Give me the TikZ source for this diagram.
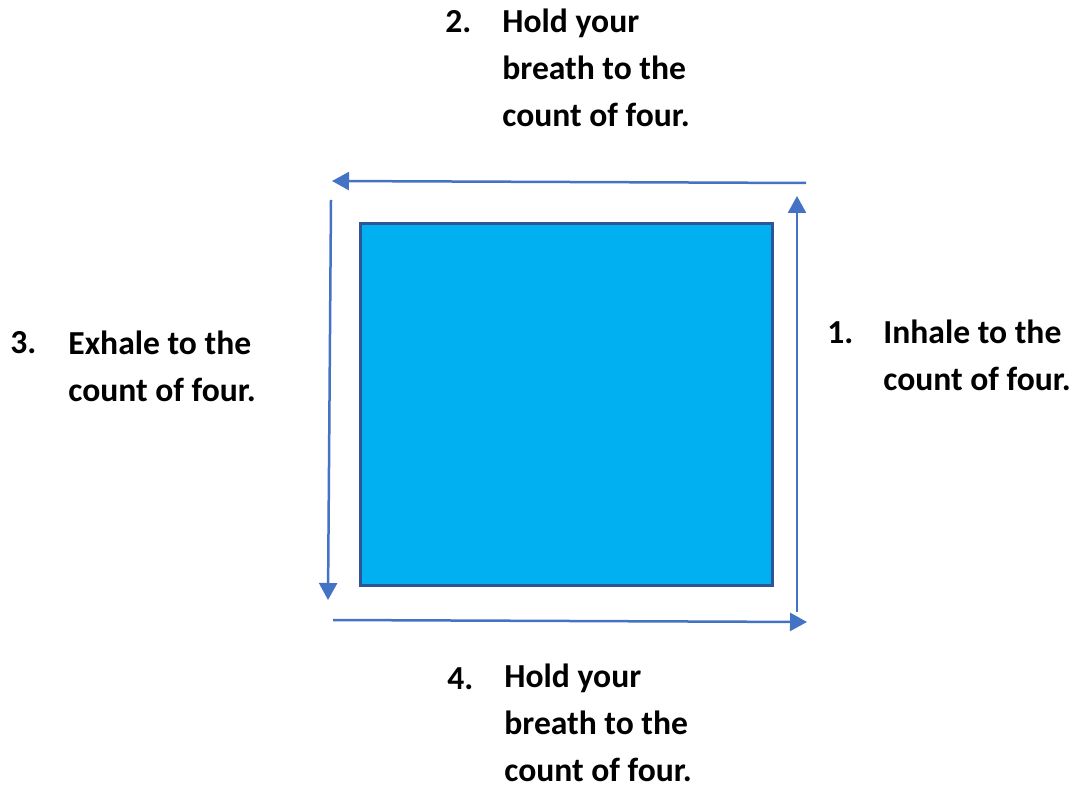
\documentclass[tikz,border=0pt]{standalone}
\usepackage{fontspec}
\setmainfont{Carlito}
\usetikzlibrary{arrows.meta,positioning}
\definecolor{ArrowBlue}{HTML}{4472C4}
\definecolor{BoxFill}{HTML}{00B0F0}
\definecolor{BoxEdge}{HTML}{2F5597}

\begin{document}
\begin{tikzpicture}[
  x=0.5pt,y=-0.5pt,
  square/.style={rectangle,draw=BoxEdge,fill=BoxFill,line width=1.5pt,minimum width=206pt,minimum height=180.5pt,inner sep=0pt},
  num/.style={anchor=base west,inner sep=0pt,font=\fontsize{16.8}{23.5}\selectfont\bfseries},
  steptext/.style={anchor=base west,inner sep=0pt,text depth=0pt,align=left,font=\fontsize{16.8}{23.5}\selectfont\bfseries},
  flow/.style={-{Triangle[length=8.5pt,width=9pt]},line width=1.25pt,draw=ArrowBlue}]
\useasboundingbox (0,0) rectangle (1080,785);
\node[square] (box) at (566,404.5) {};
% arrow ends round the square
\coordinate (rb) at (797,612);
\coordinate (rt) at (797,196);
\coordinate (tr) at (806,183);
\coordinate (tl) at (332,181);
\coordinate (lt) at (331,200);
\coordinate (lb) at (328,600);
\coordinate (bl) at (333,620);
\coordinate (br) at (807,622);
\draw[flow] (rb) -- (rt);
\draw[flow] (tr) -- (tl);
\draw[flow] (lt) -- (lb);
\draw[flow] (bl) -- (br);
% the four steps (text nodes sit on their last line)
\node[num] (n1) at (827,344) {1.};
\node[steptext] (inhale) at (883,391) {Inhale to the\\count of four.};
\node[num] (n2) at (445,33) {2.};
\node[steptext] (hold1) at (502,127) {Hold your\\breath to the\\count of four.};
\node[num] (n3) at (10,354) {3.};
\node[steptext] (exhale) at (68,401) {Exhale to the\\count of four.};
\node[num] (n4) at (447,689) {4.};
\node[steptext] (hold2) at (504,781) {Hold your\\breath to the\\count of four.};
\end{tikzpicture}
\end{document}
